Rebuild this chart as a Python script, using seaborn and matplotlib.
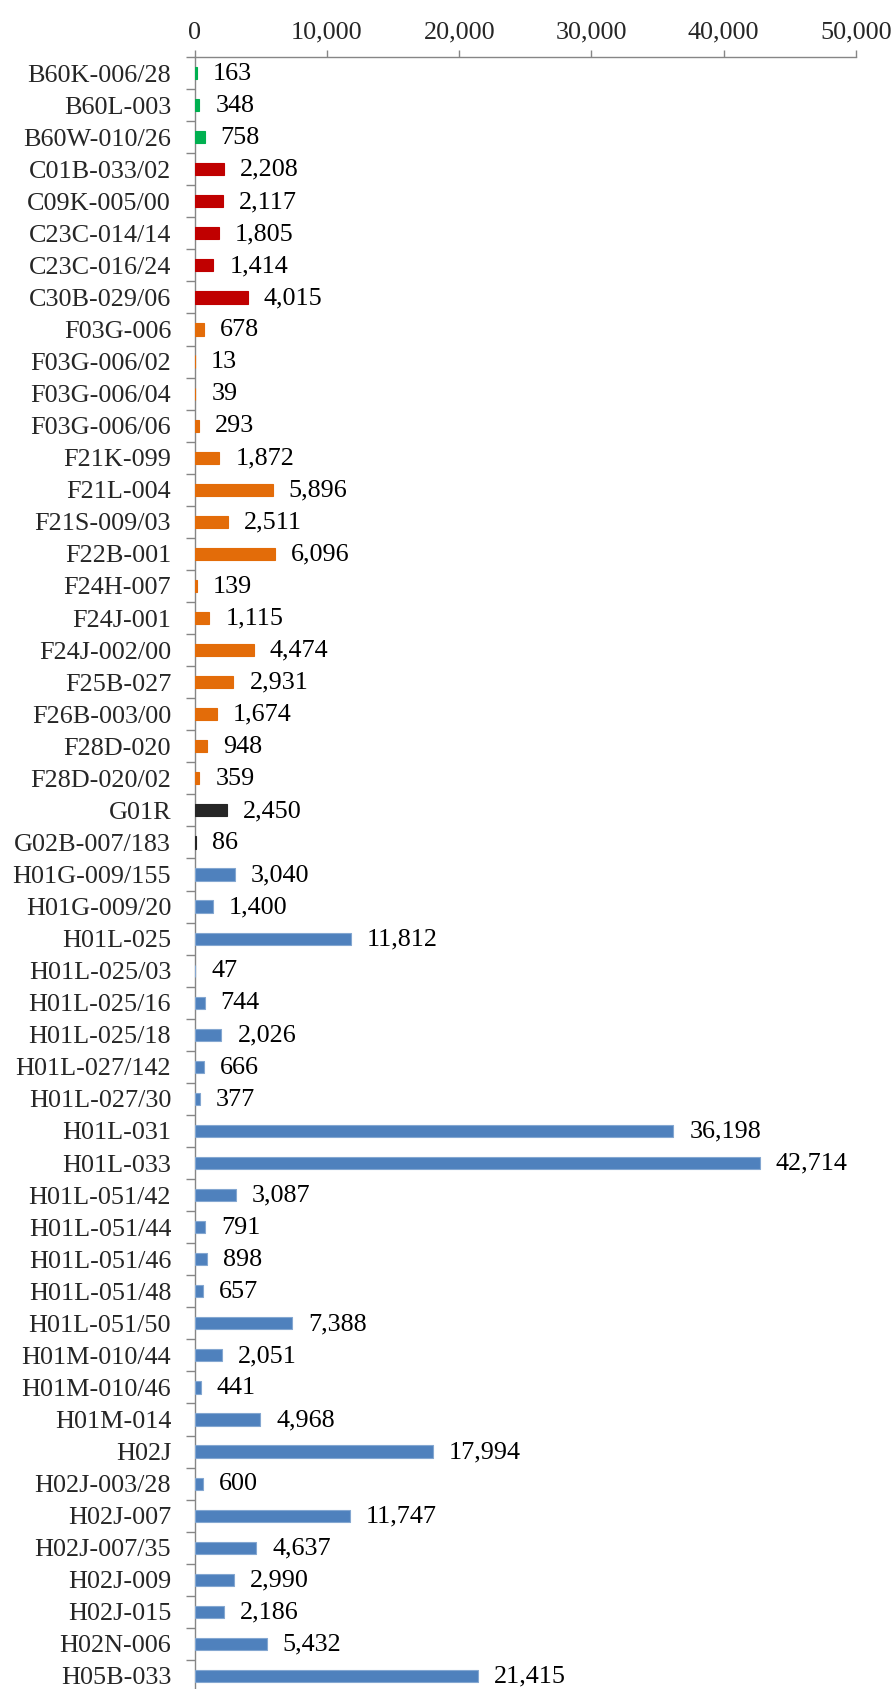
import matplotlib
matplotlib.use("Agg")
import matplotlib.pyplot as plt
import matplotlib.colors as mcolors
from matplotlib.ticker import FuncFormatter, FixedLocator
import seaborn as sns
import pandas as pd

codes = [
    "B60K-006/28", "B60L-003", "B60W-010/26",
    "C01B-033/02", "C09K-005/00", "C23C-014/14", "C23C-016/24", "C30B-029/06",
    "F03G-006", "F03G-006/02", "F03G-006/04", "F03G-006/06", "F21K-099",
    "F21L-004", "F21S-009/03", "F22B-001", "F24H-007", "F24J-001",
    "F24J-002/00", "F25B-027", "F26B-003/00", "F28D-020", "F28D-020/02",
    "G01R", "G02B-007/183",
    "H01G-009/155", "H01G-009/20", "H01L-025", "H01L-025/03", "H01L-025/16",
    "H01L-025/18", "H01L-027/142", "H01L-027/30", "H01L-031", "H01L-033",
    "H01L-051/42", "H01L-051/44", "H01L-051/46", "H01L-051/48", "H01L-051/50",
    "H01M-010/44", "H01M-010/46", "H01M-014", "H02J", "H02J-003/28",
    "H02J-007", "H02J-007/35", "H02J-009", "H02J-015", "H02N-006", "H05B-033",
]

counts = [
    163, 348, 758,
    2208, 2117, 1805, 1414, 4015,
    678, 13, 39, 293, 1872,
    5896, 2511, 6096, 139, 1115,
    4474, 2931, 1674, 948, 359,
    2450, 86,
    3040, 1400, 11812, 47, 744,
    2026, 666, 377, 36198, 42714,
    3087, 791, 898, 657, 7388,
    2051, 441, 4968, 17994, 600,
    11747, 4637, 2990, 2186, 5432, 21415,
]

sections = [c[0] for c in codes]

section_colors = {
    "B": "#00B050",
    "C": "#C00000",
    "F": "#E36C09",
    "G": "#262626",
    "H": "#4F81BD",
}

x_ticks = [0, 10000, 20000, 30000, 40000, 50000]

df = pd.DataFrame({"code": codes, "count": counts, "section": sections})

sns.set_style("white")
plt.rcParams["font.family"] = ["Liberation Serif", "DejaVu Serif"]

FS = 18.8

fig = plt.figure(figsize=(8.96, 16.89), dpi=100)
ax = fig.add_axes([194.7 / 896, 1 - 1692 / 1689, (856 - 194.7) / 896, (1692 - 57) / 1689])

sns.barplot(
    data=df, x="count", y="code", hue="section", palette=section_colors,
    dodge=False, width=0.38, legend=False, ax=ax, saturation=1,
    order=codes,
)

# thin outline: lighter rim on the blue bars, same colour on the others
for patch in ax.patches:
    fc = mcolors.to_rgb(patch.get_facecolor())
    if mcolors.to_hex(fc).upper() == section_colors["H"]:
        edge = tuple(c + (1 - c) * 0.3 for c in fc)
    else:
        edge = fc
    patch.set_edgecolor(edge)
    patch.set_linewidth(0.8)
    patch.set_zorder(3)

# value labels to the right of each bar
for i, v in enumerate(counts):
    ax.annotate(f"{v:,}", xy=(v, i), xytext=(11.5, -0.5), textcoords="offset points",
                va="center", ha="left", fontsize=FS, color="black")

ax.set_xlim(0, 50000)
ax.set_ylim(len(codes) - 0.5, -0.5)
ax.set_xlabel("")
ax.set_ylabel("")

axis_grey = "#868686"
ax.xaxis.set_ticks_position("top")
ax.xaxis.set_label_position("top")
ax.set_xticks(x_ticks)
ax.xaxis.set_major_formatter(FuncFormatter(lambda v, p: f"{int(v):,}"))
ax.tick_params(axis="x", which="major", direction="out", length=5, width=1,
               color=axis_grey, labelsize=FS, pad=4.5, top=True, bottom=False)

# category labels at bar centres, tick marks at category boundaries
ax.yaxis.set_minor_locator(FixedLocator([i - 0.5 for i in range(len(codes) + 1)]))
ax.tick_params(axis="y", which="major", length=0, labelsize=FS, pad=17)
ax.tick_params(axis="y", which="minor", direction="out", length=6.5, width=1,
               color=axis_grey, left=True)

for side in ["right", "bottom"]:
    ax.spines[side].set_visible(False)
for side in ["top", "left"]:
    ax.spines[side].set_visible(True)
    ax.spines[side].set_color(axis_grey)
    ax.spines[side].set_linewidth(1)

ax.grid(False)
fig.savefig("out.png", dpi=100)
